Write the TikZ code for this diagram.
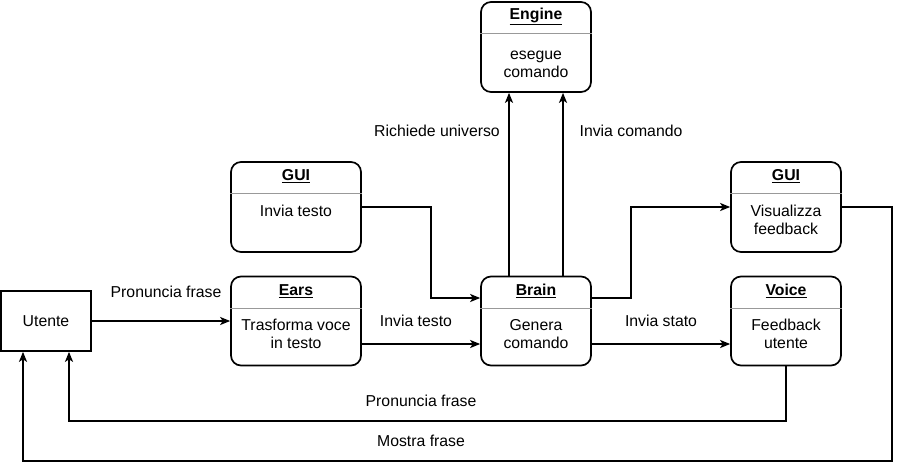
\documentclass[tikz,border=0pt]{standalone}
\usepackage{fontspec}
\setmainfont{Liberation Sans}
\usetikzlibrary{arrows.meta}
\begin{document}
\begin{tikzpicture}[x=1pt,y=-1pt,
  box/.style={draw,line width=1.7pt,rounded corners=10pt,inner sep=0pt},
  plain/.style={draw,line width=1.7pt,inner sep=0pt},
  sep/.style={draw=black!40,line width=0.8pt},
  ttl/.style={font=\fontsize{15.8}{18.5}\selectfont\bfseries,inner sep=0pt},
  body/.style={font=\fontsize{15.8}{18}\selectfont,align=center,inner sep=0pt,anchor=north},
  lbl/.style={font=\fontsize{15.8}{18.5}\selectfont,inner sep=0pt},
  arr/.style={line width=1.7pt,-{Stealth[length=10pt,width=8pt,inset=2.5pt]}},
  ln/.style={line width=1.7pt}]
\useasboundingbox (0,0) rectangle (901,471);

% boxes
\node[box,minimum width=110pt,minimum height=90pt] (engine) at (536,47) {};
\node[box,minimum width=130pt,minimum height=90pt] (guiL) at (296,207) {};
\node[box,minimum width=110pt,minimum height=90pt] (guiR) at (786,207) {};
\node[box,minimum width=130pt,minimum height=89pt] (ears) at (296,321) {};
\node[box,minimum width=110pt,minimum height=89pt] (brain) at (536,321) {};
\node[box,minimum width=110pt,minimum height=89pt] (voice) at (786,321) {};
\node[plain,minimum width=90pt,minimum height=60pt] (utente) at (46,321) {};
\node[lbl] (utenteT) at (utente.center) {Utente};

% separators
\draw[sep] (engine.west |- 0,33) -- (engine.east |- 0,33);
\draw[sep] (guiL.west |- 0,193) -- (guiL.east |- 0,193);
\draw[sep] (guiR.west |- 0,193) -- (guiR.east |- 0,193);
\draw[sep] (ears.west |- 0,308) -- (ears.east |- 0,308);
\draw[sep] (brain.west |- 0,308) -- (brain.east |- 0,308);
\draw[sep] (voice.west |- 0,308) -- (voice.east |- 0,308);

% titles
\node[ttl] (engineT) at (536,16) {\underline{Engine}};
\node[ttl] (guiLT) at (296,176) {\underline{GUI}};
\node[ttl] (guiRT) at (786,176) {\underline{GUI}};
\node[ttl] (earsT) at (296,291) {\underline{Ears}};
\node[ttl] (brainT) at (536,291) {\underline{Brain}};
\node[ttl] (voiceT) at (786,291) {\underline{Voice}};

% bodies
\node[body] (engineB) at (536,51) {esegue\\comando};
\node[body] (guiLB) at (296,205) {Invia testo};
\node[body] (guiRB) at (786,205) {Visualizza\\feedback};
\node[body] (earsB) at (296,319) {Trasforma voce\\in testo};
\node[body] (brainB) at (536,319) {Genera\\comando};
\node[body] (voiceB) at (786,319) {Feedback\\utente};

% connectors
\draw[arr] (utente.east) -- (ears.west);
\node[lbl] (l1) at (166,292) {Pronuncia frase};

\draw[arr] ([yshift=-23pt]ears.east) -- ([yshift=-23pt]brain.west);
\node[lbl] (l2) at (416,321) {Invia testo};

\draw[arr] (guiL.east) -| (431,298) -- ([yshift=23pt]brain.west);

\draw[arr] ([xshift=-27pt]brain.north) -- ([xshift=-27pt]engine.south);
\draw[arr] ([xshift=27pt]brain.north) -- ([xshift=27pt]engine.south);
\node[lbl] (l3) at (437,131) {Richiede universo};
\node[lbl] (l4) at (631,131) {Invia comando};

\draw[arr] ([yshift=23pt]brain.east) -| (631,207) -- (guiR.west);
\draw[arr] ([yshift=-23pt]brain.east) -- ([yshift=-23pt]voice.west);
\node[lbl] (l5) at (661,321) {Invia stato};

\draw[arr] (voice.south) |- (69,421) -- ([xshift=23pt]utente.south);
\node[lbl] (l6) at (421,401) {Pronuncia frase};

\draw[arr] (guiR.east) -| (892,461) -| ([xshift=-23pt]utente.south);
\node[lbl] (l7) at (421,441) {Mostra frase};
\end{tikzpicture}
\end{document}
